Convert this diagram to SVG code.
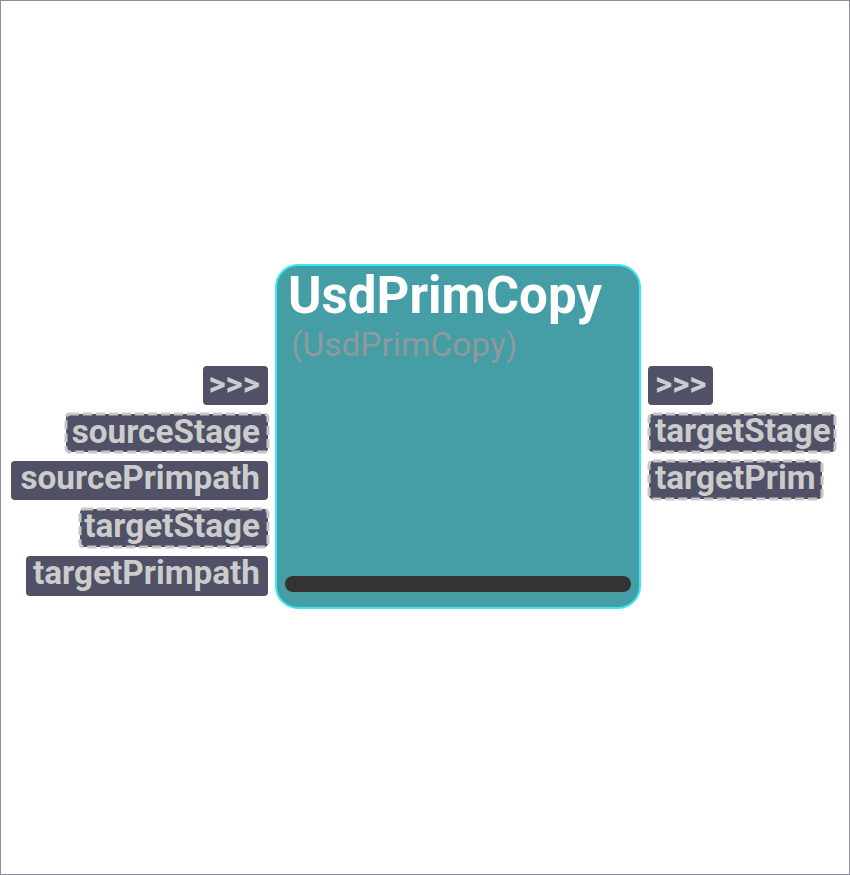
<svg xmlns="http://www.w3.org/2000/svg" width="850" height="875" viewBox="0 0 850 875">
<style>
.frame{fill:#fff;stroke:#8c8c9c;stroke-width:1}
.body{fill:#459da5;stroke:#3ee6ee;stroke-width:2}
.bar{fill:#333333}
.title{font-family:Roboto,"Liberation Sans",sans-serif;font-weight:bold;font-size:51px;fill:#ffffff}
.sub{font-family:Roboto,"Liberation Sans",sans-serif;font-size:33.5px;fill:#8f9a9c}
.port{fill:#505066}
.dash{fill:#505066;stroke:#c6c6c6;stroke-width:3;stroke-dasharray:9 4}
.pt{font-family:Roboto,"Liberation Sans",sans-serif;font-weight:bold;font-size:33.3px;fill:#cccccc}
.l{text-anchor:end}
</style>
<rect class="frame" x="0.5" y="0.5" width="849" height="874"/>
<g id="node-UsdPrimCopy">
<rect class="body" x="276" y="265" width="364" height="343" rx="22"/>
<rect class="bar" x="285" y="576" width="346" height="16" rx="8"/>
<text class="title" x="288" y="313">UsdPrimCopy</text>
<text class="sub" x="291" y="356">(UsdPrimCopy)</text>
</g>
<g id="inputs">
<g id="in-exec"><rect class="port" x="203" y="366" width="65" height="39" rx="4"/><text class="pt l" x="260" y="395">&gt;&gt;&gt;</text></g>
<g id="in-sourceStage"><rect class="dash" x="66" y="414" width="202" height="38" rx="4"/><text class="pt l" x="260" y="443">sourceStage</text></g>
<g id="in-sourcePrimpath"><rect class="port" x="11" y="461" width="257" height="39" rx="4"/><text class="pt l" x="260" y="489">sourcePrimpath</text></g>
<g id="in-targetStage"><rect class="dash" x="80" y="509" width="188" height="38" rx="4"/><text class="pt l" x="260" y="537">targetStage</text></g>
<g id="in-targetPrimpath"><rect class="port" x="26" y="556" width="242" height="40" rx="4"/><text class="pt l" x="260" y="584">targetPrimpath</text></g>
</g>
<g id="outputs">
<g id="out-exec"><rect class="port" x="648" y="366" width="65" height="39" rx="4"/><text class="pt" x="655" y="395">&gt;&gt;&gt;</text></g>
<g id="out-targetStage"><rect class="dash" x="649" y="414" width="186" height="38" rx="4"/><text class="pt" x="655" y="442">targetStage</text></g>
<g id="out-targetPrim"><rect class="dash" x="649" y="461" width="173" height="38" rx="4"/><text class="pt" x="655" y="489">targetPrim</text></g>
</g>
<g id="connectors"/>
</svg>
